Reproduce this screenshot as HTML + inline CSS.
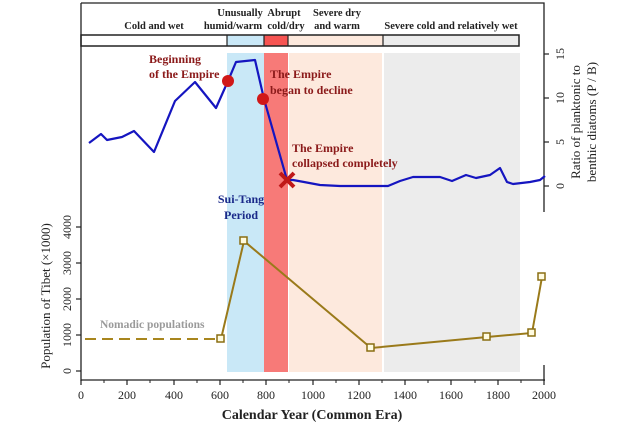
<!DOCTYPE html>
<html><head><meta charset="utf-8"><style>
body{margin:0;background:#fff;width:640px;height:424px;overflow:hidden}
svg{display:block}
text{font-family:"Liberation Serif",serif}
</style></head><body>
<svg width="640" height="424" viewBox="0 0 640 424">
<rect x="227" y="53" width="37" height="319" fill="#c9e8f7"/>
<rect x="264" y="53" width="24" height="319" fill="#f77a78"/>
<rect x="289" y="53" width="93" height="319" fill="#fde9dd"/>
<rect x="384" y="53" width="136" height="319" fill="#ececec"/>
<rect x="81" y="35" width="147" height="11" fill="#fff"/>
<rect x="227" y="35" width="37" height="11" fill="#c9e8f7"/>
<rect x="264" y="35" width="24" height="11" fill="#f65452"/>
<rect x="288" y="35" width="95" height="11" fill="#fde9dd"/>
<rect x="383" y="35" width="136" height="11" fill="#ececec"/>
<rect x="81" y="35" width="438" height="11" fill="none" stroke="#222" stroke-width="1.5"/>
<g stroke="#222" stroke-width="1.2"><line x1="227" y1="35" x2="227" y2="46"/><line x1="264" y1="35" x2="264" y2="46"/><line x1="288" y1="35" x2="288" y2="46"/><line x1="383" y1="35" x2="383" y2="46"/></g>
<path d="M81 3 H544 V212" fill="none" stroke="#222" stroke-width="1.3"/>
<line x1="81" y1="3" x2="81" y2="381" stroke="#222" stroke-width="1.3"/>
<line x1="81" y1="380" x2="545" y2="380" stroke="#222" stroke-width="1.3"/>
<line x1="544" y1="365" x2="544" y2="381" stroke="#222" stroke-width="1.3"/>
<g font-weight="bold" font-size="10.5" fill="#222" text-anchor="middle">
<text x="154" y="29">Cold and wet</text>
<text x="240" y="16">Unusually</text><text x="233" y="29">humid/warm</text>
<text x="284" y="16">Abrupt</text><text x="286" y="29">cold/dry</text>
<text x="337" y="16">Severe dry</text><text x="337" y="29">and warm</text>
<text x="451" y="29">Severe cold and relatively wet</text>
</g>
<g stroke="#222" stroke-width="1.2"><line x1="544" y1="54" x2="549" y2="54"/><line x1="544" y1="98" x2="549" y2="98"/><line x1="544" y1="142" x2="549" y2="142"/><line x1="544" y1="186" x2="549" y2="186"/></g>
<g font-size="12" fill="#222" text-anchor="middle">
<text transform="translate(564,54) rotate(-90)">15</text>
<text transform="translate(564,98) rotate(-90)">10</text>
<text transform="translate(564,142) rotate(-90)">5</text>
<text transform="translate(564,186) rotate(-90)">0</text>
<text transform="translate(580,122) rotate(-90)" font-size="13">Ratio of planktonic to</text>
<text transform="translate(596,122) rotate(-90)" font-size="13">benthic diatoms (P / B)</text>
</g>
<g stroke="#222" stroke-width="1.2"><line x1="76" y1="371" x2="81" y2="371"/><line x1="76" y1="335" x2="81" y2="335"/><line x1="76" y1="299" x2="81" y2="299"/><line x1="76" y1="263" x2="81" y2="263"/><line x1="76" y1="227" x2="81" y2="227"/></g>
<g font-size="12" fill="#222" text-anchor="middle">
<text transform="translate(71,371) rotate(-90)">0</text>
<text transform="translate(71,335) rotate(-90)">1000</text>
<text transform="translate(71,299) rotate(-90)">2000</text>
<text transform="translate(71,263) rotate(-90)">3000</text>
<text transform="translate(71,227) rotate(-90)">4000</text>
<text transform="translate(50,296) rotate(-90)" font-size="13">Population of Tibet (×1000)</text>
</g>
<g stroke="#222" stroke-width="1.2">
<line x1="81" y1="380" x2="81" y2="385"/><line x1="127" y1="380" x2="127" y2="385"/><line x1="174" y1="380" x2="174" y2="385"/><line x1="220" y1="380" x2="220" y2="385"/><line x1="266" y1="380" x2="266" y2="385"/><line x1="313" y1="380" x2="313" y2="385"/><line x1="359" y1="380" x2="359" y2="385"/><line x1="405" y1="380" x2="405" y2="385"/><line x1="451" y1="380" x2="451" y2="385"/><line x1="498" y1="380" x2="498" y2="385"/><line x1="544" y1="380" x2="544" y2="385"/>
</g>
<g stroke="#222" stroke-width="1"><line x1="104" y1="380" x2="104" y2="383"/><line x1="150" y1="380" x2="150" y2="383"/><line x1="197" y1="380" x2="197" y2="383"/><line x1="243" y1="380" x2="243" y2="383"/><line x1="289" y1="380" x2="289" y2="383"/><line x1="336" y1="380" x2="336" y2="383"/><line x1="382" y1="380" x2="382" y2="383"/><line x1="428" y1="380" x2="428" y2="383"/><line x1="475" y1="380" x2="475" y2="383"/><line x1="521" y1="380" x2="521" y2="383"/></g>
<g font-size="12" fill="#222" text-anchor="middle">
<text x="81" y="399">0</text><text x="127" y="399">200</text><text x="174" y="399">400</text><text x="220" y="399">600</text><text x="266" y="399">800</text><text x="313" y="399">1000</text><text x="359" y="399">1200</text><text x="405" y="399">1400</text><text x="451" y="399">1600</text><text x="498" y="399">1800</text><text x="544" y="399">2000</text>
<text x="312" y="419" font-size="14" font-weight="bold">Calendar Year (Common Era)</text>
</g>
<polyline fill="none" stroke="#1515c0" stroke-width="2.2" stroke-linejoin="round" points="89,143 101,134 107,140 122,137 134,131 154,152 175,101 195,82 216,108 228,81 236,62 255,60 264,99 287,180 293,180 304,182 320,185 340,186 380,186 388,186 400,181 413,177 440,177 452,181 466,175 476,178 490,175 500,168 507,182 513,184 530,182 540,180 545,176"/>
<circle cx="228" cy="81" r="6" fill="#d01818"/>
<circle cx="263" cy="99" r="6" fill="#d01818"/>
<g stroke="#c01818" stroke-width="4"><line x1="280" y1="173" x2="294" y2="187"/><line x1="294" y1="173" x2="280" y2="187"/></g>
<g font-weight="bold" font-size="12" fill="#8b1a1a">
<text x="149" y="63">Beginning</text><text x="149" y="78">of the Empire</text>
<text x="270" y="78">The Empire</text><text x="270" y="94">began to decline</text>
<text x="292" y="152">The Empire</text><text x="292" y="167">collapsed completely</text>
</g>
<g font-weight="bold" font-size="12" fill="#1a2a8a" text-anchor="middle">
<text x="241" y="203">Sui-Tang</text><text x="241" y="219">Period</text>
</g>
<line x1="85" y1="339" x2="215" y2="339" stroke="#a8861e" stroke-width="2" stroke-dasharray="11,6"/>
<text x="100" y="328" font-size="11.5" font-weight="bold" fill="#9a9a9a">Nomadic populations</text>
<polyline fill="none" stroke="#9a7a1a" stroke-width="2" points="221,339 244,241 371,348 487,337 532,333 542,277"/>
<g fill="#fffbe0" stroke="#8a6e12" stroke-width="1.5">
<rect x="217" y="335" width="7" height="7"/><rect x="240" y="237" width="7" height="7"/><rect x="367" y="344" width="7" height="7"/><rect x="483" y="333" width="7" height="7"/><rect x="528" y="329" width="7" height="7"/><rect x="538" y="273" width="7" height="7"/>
</g>
</svg>
</body></html>
